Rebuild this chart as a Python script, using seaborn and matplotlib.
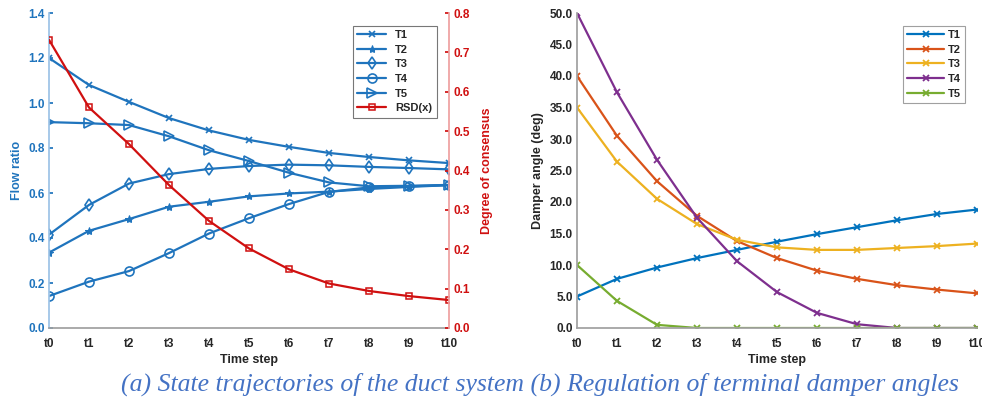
import numpy as np
import pandas as pd
import matplotlib
matplotlib.use("Agg")
import matplotlib.pyplot as plt
import seaborn as sns
from matplotlib.ticker import FormatStrFormatter

sns.set_theme(style="white")
plt.rcParams["font.family"] = ["Liberation Sans", "DejaVu Sans"]

steps = [f"t{i}" for i in range(11)]

# Flow ratio of each terminal
flow_t1 = [1.20, 1.08, 1.005, 0.933, 0.878, 0.836, 0.805, 0.778, 0.760, 0.745, 0.733]
flow_t2 = [0.335, 0.432, 0.484, 0.539, 0.561, 0.585, 0.598, 0.606, 0.618, 0.627, 0.635]
flow_t3 = [0.415, 0.547, 0.642, 0.684, 0.707, 0.720, 0.726, 0.723, 0.716, 0.711, 0.705]
flow_t4 = [0.142, 0.206, 0.253, 0.333, 0.420, 0.488, 0.551, 0.605, 0.625, 0.630, 0.635]
flow_t5 = [0.915, 0.910, 0.902, 0.852, 0.790, 0.742, 0.690, 0.647, 0.630, 0.632, 0.636]
rsd = [0.732, 0.560, 0.467, 0.363, 0.272, 0.202, 0.149, 0.113, 0.094, 0.081, 0.071]

# Damper angles (deg)
ang_t1 = [5.0, 7.8, 9.6, 11.1, 12.4, 13.7, 14.9, 16.0, 17.1, 18.1, 18.8]
ang_t2 = [40.0, 30.5, 23.3, 17.8, 13.8, 11.1, 9.1, 7.8, 6.8, 6.1, 5.5]
ang_t3 = [35.0, 26.4, 20.5, 16.5, 14.0, 12.8, 12.4, 12.4, 12.7, 13.0, 13.4]
ang_t4 = [50.0, 37.4, 26.7, 17.5, 10.6, 5.7, 2.4, 0.6, 0.0, 0.0, 0.0]
ang_t5 = [10.0, 4.3, 0.5, 0.0, 0.0, 0.0, 0.0, 0.0, 0.0, 0.0, 0.0]

BLUE = "#1f74bd"
RED = "#d01010"
DARK = "#262626"
GREY = "#a0a0a0"
M_COLORS = ["#0072BD", "#D95319", "#EDB120", "#7E2F8E", "#77AC30"]

TICK_SIZE = 8.5
LABEL_SIZE = 9
LEGEND_SIZE = 8

x = np.arange(len(steps))
fig = plt.figure(figsize=(9.82, 4.03), dpi=100)
ax1 = fig.add_axes([49 / 982, 75 / 403, 400 / 982, 315 / 403])
ax2 = ax1.twinx()
ax3 = fig.add_axes([577 / 982, 75 / 403, 400 / 982, 315 / 403])


def style_ticklabels(labels, color):
    for lab in labels:
        lab.set_color(color)
        lab.set_fontsize(TICK_SIZE)
        lab.set_fontweight("bold")


# ---- (a) flow ratios and consensus degree ----
flow_series = [("T1", flow_t1, "x", dict(markersize=4.5, markeredgewidth=1.2)),
               ("T2", flow_t2, "*", dict(markersize=6)),
               ("T3", flow_t3, "d", dict(markersize=6.5, markerfacecolor="none", markeredgewidth=1.2)),
               ("T4", flow_t4, "o", dict(markersize=6.5, markerfacecolor="none", markeredgewidth=1.2)),
               ("T5", flow_t5, ">", dict(markersize=7, markerfacecolor="none", markeredgewidth=1.2))]
for name, vals, mk, kw in flow_series:
    df = pd.DataFrame({"step": x, "value": vals})
    sns.lineplot(data=df, x="step", y="value", ax=ax1, color=BLUE, marker=mk,
                 markeredgecolor=BLUE, linewidth=1.6, label=name, legend=False, **kw)
df_rsd = pd.DataFrame({"step": x, "value": rsd})
sns.lineplot(data=df_rsd, x="step", y="value", ax=ax2, color=RED, marker="s",
             markersize=4.5, markerfacecolor="none", markeredgecolor=RED,
             markeredgewidth=1.1, linewidth=1.6, label="RSD(x)", legend=False)

ax1.set_xlim(0, 10)
ax1.set_ylim(0, 1.4)
ax2.set_ylim(0, 0.8)
ax1.set_yticks(np.arange(0, 1.41, 0.2))
ax2.set_yticks(np.arange(0, 0.81, 0.1))
ax1.yaxis.set_major_formatter(FormatStrFormatter("%.1f"))
ax2.yaxis.set_major_formatter(FormatStrFormatter("%.1f"))
ax1.set_xticks(x)
ax1.set_xticklabels(steps)
style_ticklabels(ax1.get_xticklabels(), DARK)
style_ticklabels(ax1.get_yticklabels(), BLUE)
style_ticklabels(ax2.get_yticklabels(), RED)
ax1.set_xlabel("Time step", color=DARK, labelpad=3, fontsize=LABEL_SIZE, fontweight="bold")
ax1.set_ylabel("Flow ratio", color=BLUE, labelpad=4, fontsize=LABEL_SIZE, fontweight="bold")
ax2.set_ylabel("Degree of consensus", color=RED, labelpad=8, fontsize=LABEL_SIZE, fontweight="bold")

for a in (ax1, ax2):
    a.spines["top"].set_visible(False)
    a.grid(False)
ax1.spines["right"].set_visible(False)
ax1.spines["left"].set_color("#9cc3e6")
ax1.spines["bottom"].set_color(GREY)
ax2.spines["left"].set_visible(False)
ax2.spines["bottom"].set_visible(False)
ax2.spines["right"].set_color("#eea0a0")
ax1.tick_params(axis="y", direction="in", length=3, color=BLUE, pad=3)
ax1.tick_params(axis="x", direction="in", length=3, color=GREY, pad=7)
ax2.tick_params(axis="y", direction="in", length=3, color=RED, pad=3)

h1, l1 = ax1.get_legend_handles_labels()
h2, l2 = ax2.get_legend_handles_labels()
leg = ax2.legend(h1 + h2, l1 + l2, loc="upper left", bbox_to_anchor=(304 / 400, 0.96),
                 frameon=True, fancybox=False, prop=dict(weight="bold", size=LEGEND_SIZE),
                 handlelength=2.6, handletextpad=0.8, labelspacing=0.42,
                 borderpad=0.4, borderaxespad=0)
leg.get_frame().set_edgecolor("#555555")
leg.get_frame().set_linewidth(0.8)

# ---- (b) damper angles ----
angle_series = [("T1", ang_t1), ("T2", ang_t2), ("T3", ang_t3), ("T4", ang_t4), ("T5", ang_t5)]
for (name, vals), col in zip(angle_series, M_COLORS):
    df = pd.DataFrame({"step": x, "value": vals})
    sns.lineplot(data=df, x="step", y="value", ax=ax3, color=col, marker="x",
                 markersize=4.5, markeredgewidth=1.3, markeredgecolor=col,
                 linewidth=1.6, label=name, legend=False)
ax3.set_xlim(0, 10)
ax3.set_ylim(0, 50)
ax3.set_yticks(np.arange(0, 50.1, 5))
ax3.yaxis.set_major_formatter(FormatStrFormatter("%.1f"))
ax3.set_xticks(x)
ax3.set_xticklabels(steps)
style_ticklabels(ax3.get_xticklabels(), DARK)
style_ticklabels(ax3.get_yticklabels(), DARK)
ax3.set_xlabel("Time step", color=DARK, labelpad=3, fontsize=LABEL_SIZE, fontweight="bold")
ax3.set_ylabel("Damper angle (deg)", color=DARK, labelpad=4, fontsize=LABEL_SIZE, fontweight="bold")
ax3.spines["top"].set_visible(False)
ax3.spines["right"].set_visible(False)
ax3.spines["left"].set_color(GREY)
ax3.spines["bottom"].set_color(GREY)
ax3.tick_params(axis="y", direction="in", length=3, color=GREY, pad=3)
ax3.tick_params(axis="x", direction="in", length=3, color=GREY, pad=7)
ax3.grid(False)
leg3 = ax3.legend(loc="upper left", bbox_to_anchor=(326 / 400, 0.96), frameon=True,
                  fancybox=False, prop=dict(weight="bold", size=LEGEND_SIZE),
                  handlelength=3.3, handletextpad=0.3, labelspacing=0.42,
                  borderpad=0.4, borderaxespad=0)
leg3.get_frame().set_edgecolor("#888888")
leg3.get_frame().set_linewidth(0.8)

# ---- caption ----
fig.text(540 / 982, 19 / 403,
         "(a) State trajectories of the duct system (b) Regulation of terminal damper angles",
         ha="center", va="center", fontsize=18.5, style="italic",
         family=["Liberation Serif", "DejaVu Serif"], color="#4472C4")

fig.savefig("out.png", dpi=100)
